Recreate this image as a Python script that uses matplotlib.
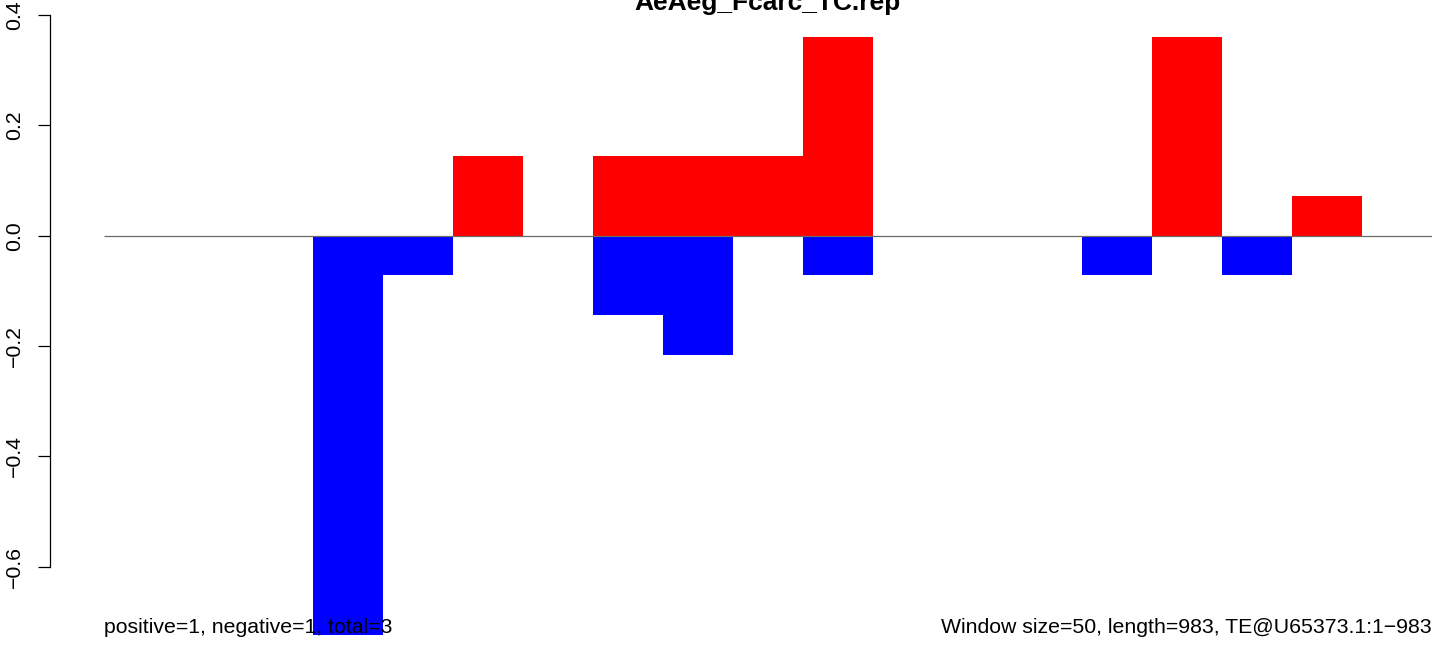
import numpy as np
import matplotlib
matplotlib.use("Agg")
import matplotlib.pyplot as plt

plt.rcParams['font.family'] = ['Liberation Sans', 'DejaVu Sans']

# window data (window size 50)
title = "AeAeg_Fcarc_TC.rep"
window_size = 50
window_starts = np.arange(0, 950, window_size)
positive = [0, 0, 0, 0, 0, 0.144, 0, 0.144, 0.144, 0.144, 0.36, 0, 0, 0, 0, 0.36, 0, 0.072, 0]
negative = [0, 0, 0, -0.7236, -0.072, 0, 0, -0.144, -0.216, 0, -0.072, 0, 0, 0, -0.072, 0, -0.072, 0, 0]
yticks = [-0.6, -0.4, -0.2, 0.0, 0.2, 0.4]
left_note = "positive=1, negative=1, total=3"
right_note = "Window size=50, length=983, TE@U65373.1:1\u2212983"

W, H = 1444, 646
fig = plt.figure(figsize=(W / 100, H / 100), dpi=100)
ax = fig.add_axes([103.5 / W, 11 / H, (1432 - 103.5) / W, 635 / H])

ax.bar(window_starts, positive, width=window_size, align='edge', color='#FF0000', linewidth=0)
ax.bar(window_starts, negative, width=window_size, align='edge', color='#0000FF', linewidth=0)
ax.hlines(0, window_starts[0], window_starts[-1] + window_size, color='#6b6b6b', linewidth=0.9)

ax.set_xlim(0, 950)
ax.set_ylim(-0.7236, 0.4272)

for s in ['top', 'right', 'bottom']:
    ax.spines[s].set_visible(False)
ax.spines['left'].set_position(('outward', 53.5 * 0.72))
ax.spines['left'].set_bounds(-0.6, 0.4)
ax.spines['left'].set_linewidth(0.9)
ax.set_xticks([])
ax.set_yticks(yticks)
ax.set_yticklabels(["%.1f" % t if t >= 0 else "\u2212%.1f" % -t for t in yticks],
                   rotation=90, va='center')
ax.tick_params(axis='y', length=8.6, width=0.9, pad=10, labelsize=15.3)

fig.text(767.5 / W, 1 - 10 / H, title, ha='center', va='baseline', fontsize=19, fontweight='bold')
fig.text(103.5 / W, 13 / H, left_note, ha='left', va='baseline', fontsize=15.3)
fig.text(1432 / W, 13 / H, right_note, ha='right', va='baseline', fontsize=15.3)

fig.savefig("out.png", dpi=100)
